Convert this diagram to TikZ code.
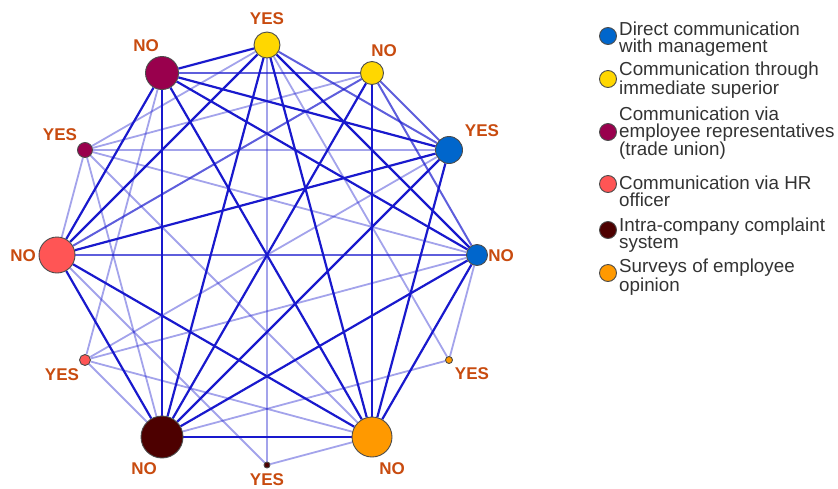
\documentclass[tikz,border=0pt]{standalone}
\usepackage{fontspec}
\setmainfont{Liberation Sans}
\usetikzlibrary{backgrounds}

\definecolor{edgeblue}{RGB}{25,25,205}
\definecolor{ansorange}{RGB}{200,75,15}
\definecolor{dirblue}{RGB}{0,102,204}
\definecolor{supyellow}{RGB}{255,215,0}
\definecolor{unpurple}{RGB}{153,0,77}
\definecolor{hrpink}{RGB}{255,85,85}
\definecolor{cmpbrown}{RGB}{77,0,0}
\definecolor{srvorange}{RGB}{255,153,0}

\begin{document}
\begin{tikzpicture}[
    x=1pt, y=-1pt,
    chan/.style={circle, draw=black!70, line width=0.9pt, inner sep=0pt, minimum size=#1},
    ans/.style={text=ansorange, font=\fontsize{17}{17}\selectfont\bfseries, inner sep=0pt},
    strong/.style={edgeblue, line width=2.2pt},
    mid/.style={edgeblue, line width=2pt, opacity=0.7},
    weak/.style={edgeblue, line width=1.8pt, opacity=0.4},
    legtext/.style={anchor=west, align=left, text=black!80, font=\fontsize{18.8}{17}\selectfont, inner sep=0pt}
]
    \useasboundingbox (0,0) rectangle (838,488);

    % channels on the ring
    \node[chan=26pt, fill=supyellow] (supY) at (267,45) {};
    \node[chan=23pt, fill=supyellow] (supN) at (372,73) {};
    \node[chan=27pt, fill=dirblue] (dirY) at (449,150) {};
    \node[chan=21pt, fill=dirblue] (dirN) at (477,255) {};
    \node[chan=7pt, fill=srvorange] (srvY) at (449,360) {};
    \node[chan=40pt, fill=srvorange] (srvN) at (372,437) {};
    \node[chan=6pt, fill=cmpbrown] (cmpY) at (267,465) {};
    \node[chan=42pt, fill=cmpbrown] (cmpN) at (162,437) {};
    \node[chan=11pt, fill=hrpink] (hrY) at (85,360) {};
    \node[chan=36pt, fill=hrpink] (hrN) at (57,255) {};
    \node[chan=15pt, fill=unpurple] (unY) at (85,150) {};
    \node[chan=33pt, fill=unpurple] (unN) at (162,73) {};

    % answers
    \node[ans] (asupY) at (267,19) {YES};
    \node[ans] (asupN) at (384,51) {NO};
    \node[ans] (adirY) at (482,131) {YES};
    \node[ans] (adirN) at (501,256) {NO};
    \node[ans] (asrvY) at (472,374) {YES};
    \node[ans] (asrvN) at (392,469) {NO};
    \node[ans] (acmpY) at (267,480) {YES};
    \node[ans] (acmpN) at (144,469) {NO};
    \node[ans] (ahrY) at (62,375) {YES};
    \node[ans] (ahrN) at (23,256) {NO};
    \node[ans] (aunY) at (60,135) {YES};
    \node[ans] (aunN) at (146,46) {NO};

    \begin{pgfonlayer}{background}
    \draw[strong] (unN) -- (cmpN);
    \draw[strong] (supN) -- (srvN);
    \draw[strong] (cmpN) -- (srvN);
    \draw[strong] (hrN) -- (srvN);
    \draw[strong] (hrN) -- (cmpN);
    \draw[strong] (supN) -- (cmpN);
    \draw[strong] (unN) -- (srvN);
    \draw[strong] (unN) -- (hrN);
    \draw[strong] (supY) -- (unN);
    \draw[strong] (supY) -- (hrN);
    \draw[strong] (supY) -- (cmpN);
    \draw[strong] (supY) -- (srvN);
    \draw[strong] (supY) -- (dirN);
    \draw[strong] (dirY) -- (cmpN);
    \draw[strong] (dirY) -- (srvN);
    \draw[strong] (dirN) -- (srvN);
    \draw[strong] (dirY) -- (hrN);
    \draw[strong] (dirY) -- (unN);
    \draw[strong] (dirN) -- (cmpN);
    \draw[strong] (dirN) -- (unN);

    \draw[mid] (unN) -- (supN);
    \draw[mid] (hrN) -- (dirN);
    \draw[mid] (supN) -- (hrN);
    \draw[mid] (supN) -- (dirY);
    \draw[mid] (supN) -- (dirN);
    \draw[mid] (supY) -- (dirY);

    \draw[weak] (unY) -- (supY);
    \draw[weak] (unY) -- (supN);
    \draw[weak] (unY) -- (dirY);
    \draw[weak] (unY) -- (dirN);
    \draw[weak] (unY) -- (srvN);
    \draw[weak] (unY) -- (cmpN);
    \draw[weak] (unY) -- (hrN);
    \draw[weak] (hrY) -- (unN);
    \draw[weak] (hrY) -- (dirY);
    \draw[weak] (hrY) -- (dirN);
    \draw[weak] (hrY) -- (srvN);
    \draw[weak] (hrY) -- (cmpN);
    \draw[weak] (srvY) -- (supY);
    \draw[weak] (srvY) -- (dirN);
    \draw[weak] (srvY) -- (cmpN);
    \draw[weak] (cmpY) -- (supY);
    \draw[weak] (cmpY) -- (srvN);
    \draw[weak] (cmpY) -- (hrN);
    \end{pgfonlayer}

    % legend
    \node[chan=17pt, fill=dirblue] (kdir) at (608,36) {};
    \node[chan=17pt, fill=supyellow] (ksup) at (608,79) {};
    \node[chan=17pt, fill=unpurple] (kun) at (608,132) {};
    \node[chan=17pt, fill=hrpink] (khr) at (608,184) {};
    \node[chan=17pt, fill=cmpbrown] (kcmp) at (608,230) {};
    \node[chan=17pt, fill=srvorange] (ksrv) at (608,273) {};

    \node[legtext] (tdir) at (619,39) {Direct communication\\with management};
    \node[legtext] (tsup) at (619,80) {Communication through\\immediate superior};
    \node[legtext] (tun) at (619,133) {Communication via\\employee representatives\\(trade union)};
    \node[legtext] (thr) at (619,191) {Communication via HR\\officer};
    \node[legtext] (tcmp) at (619,235) {Intra-company complaint\\system};
    \node[legtext] (tsrv) at (619,277) {Surveys of employee\\opinion};
\end{tikzpicture}
\end{document}
